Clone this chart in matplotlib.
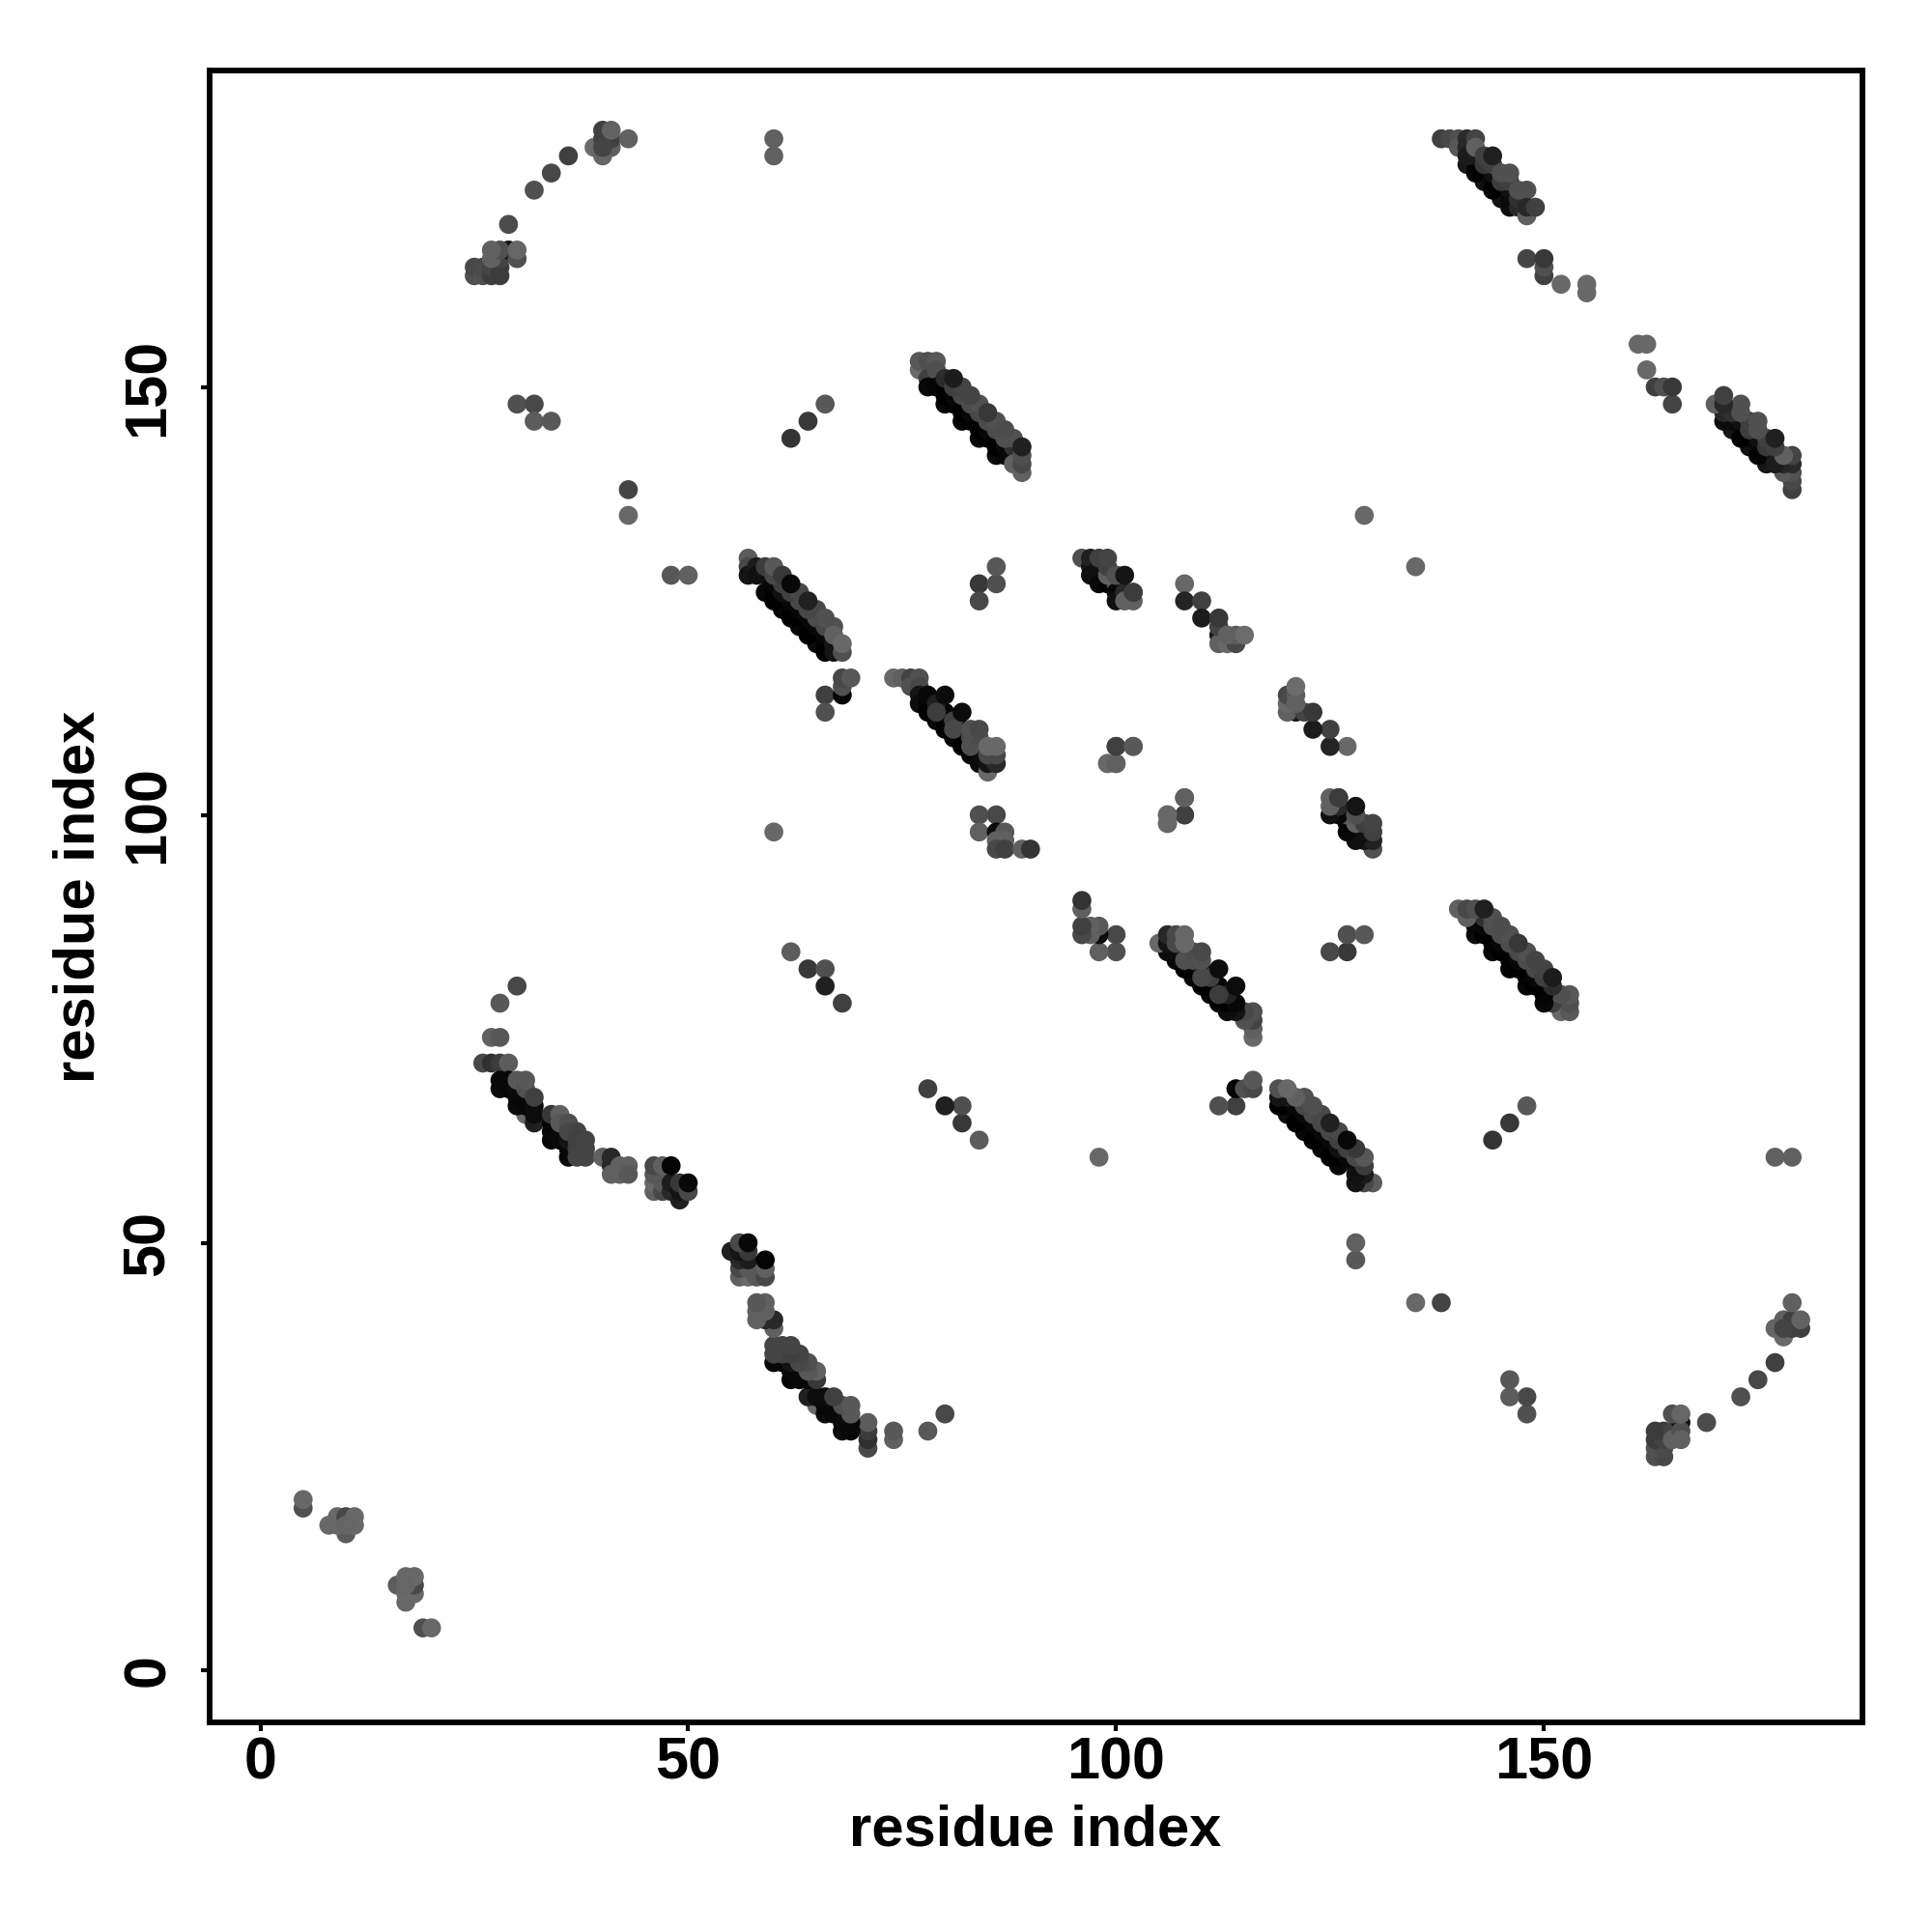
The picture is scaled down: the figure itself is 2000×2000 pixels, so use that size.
import numpy as np
import matplotlib
matplotlib.use('Agg')
import matplotlib.pyplot as plt

# contactos, solo triangulo superior (i < j), se espeja al dibujar
low_i = [5, 5, 10, 8, 9, 9, 10, 11, 11, 10]
low_j = [19, 20, 16, 17, 17, 18, 18, 17, 18, 17]
low_g = [80, 104, 92, 104, 104, 104, 72, 104, 104, 102]

arc1_i = [25, 25, 26, 26, 27, 27, 28, 28, 28, 27, 29, 28, 30, 30, 29, 36, 34, 32, 40]
arc1_j = [163, 164, 163, 164, 163, 164, 163, 164, 165, 165, 166, 166, 165, 166, 169, 177, 175, 173, 178]
arc1_g = [80, 72, 80, 74, 60, 68, 60, 60, 68, 96, 16, 80, 80, 102, 76, 64, 72, 80, 60]
arc1_i += [27, 39, 40, 40, 41, 40, 41, 41, 43, 40]
arc1_j += [166, 178, 177, 179, 178, 180, 179, 180, 179, 178]
arc1_g += [96, 106, 102, 64, 96, 64, 64, 98, 96, 68]

pair_i = [60, 60, 30, 32, 32, 34, 66, 64, 62, 43, 43, 48, 50, 60, 62, 64, 66, 66, 68]
pair_j = [179, 177, 148, 148, 146, 146, 148, 146, 144, 138, 135, 128, 128, 98, 84, 82, 82, 80, 78]
pair_g = [96, 96, 80, 72, 92, 88, 88, 56, 52, 68, 104, 88, 96, 104, 92, 56, 80, 32, 64]

bandA_i = [77, 77, 78, 79, 78, 79, 78, 80, 82, 84, 86, 79, 81, 83, 85, 87, 80, 82, 84, 86, 81, 83, 85, 87]
bandA_j = [152, 153, 153, 153, 151, 152, 150, 148, 146, 144, 142, 150, 148, 146, 144, 142, 149, 147, 145, 143, 149, 147, 145, 143]
bandA_g = [104, 88, 80, 88, 64, 80, 8, 8, 4, 8, 12, 4, 4, 4, 4, 8, 0, 0, 0, 0, 8, 8, 8, 8]
bandA_i += [80, 82, 84, 86, 88, 81, 83, 85, 87, 82, 84, 86, 88, 83, 85, 87, 81, 89, 88, 89, 89, 89]
bandA_j += [151, 149, 147, 145, 143, 150, 148, 146, 144, 150, 148, 146, 144, 149, 147, 145, 151, 140, 141, 141, 142, 143]
bandA_g += [44, 72, 72, 76, 48, 64, 76, 76, 80, 68, 80, 80, 80, 68, 56, 76, 28, 96, 96, 72, 80, 32]

bandB_i = [57, 57, 57, 58, 58, 59, 59, 61, 63, 65, 60, 62, 64, 66, 60, 62, 64, 66, 60, 62, 64, 66, 61, 63, 65, 67, 67]
bandB_j = [130, 129, 128, 129, 128, 128, 126, 124, 122, 120, 126, 124, 122, 120, 125, 123, 121, 119, 127, 125, 123, 121, 126, 124, 122, 120, 119]
bandB_g = [92, 72, 20, 28, 16, 16, 8, 8, 8, 12, 4, 4, 4, 4, 0, 0, 0, 0, 8, 8, 8, 8, 16, 8, 8, 24, 20]
bandB_i += [59, 61, 63, 65, 60, 62, 64, 66, 68, 60, 61, 63, 65, 67, 66, 62, 64, 67, 68]
bandB_j += [129, 127, 125, 123, 128, 126, 124, 122, 119, 129, 128, 126, 124, 122, 123, 127, 125, 121, 120]
bandB_g += [60, 64, 72, 76, 72, 64, 72, 72, 80, 88, 56, 72, 72, 80, 80, 8, 32, 96, 104]

bandC_i = [74, 75, 76, 76, 77, 77, 77, 77, 79, 81, 83, 78, 80, 82, 84, 78, 80, 82, 84, 78, 80, 82, 84, 85, 85, 86, 86, 85]
bandC_j = [116, 116, 116, 115, 116, 115, 114, 113, 111, 109, 107, 113, 111, 109, 107, 112, 110, 108, 106, 114, 112, 110, 108, 105, 106, 106, 107, 107]
bandC_g = [104, 96, 68, 80, 80, 72, 20, 12, 8, 8, 8, 4, 4, 4, 4, 0, 0, 0, 12, 8, 8, 8, 16, 104, 20, 40, 72, 72]
bandC_i += [79, 81, 83, 79, 81, 83, 84, 80, 82, 85, 86]
bandC_j += [113, 111, 109, 112, 110, 108, 109, 114, 112, 108, 108]
bandC_g += [32, 64, 76, 60, 72, 80, 76, 12, 12, 104, 104]
bandC_i += [83, 84]
bandC_j += [110, 110]
bandC_g += [80, 72]

bandD_i = [96, 97, 97, 98, 97, 98, 98, 99, 100, 99, 100, 100, 101, 102, 102, 99, 100, 101, 102, 98, 99, 100, 101]
bandD_j = [130, 129, 130, 129, 128, 128, 127, 127, 127, 128, 126, 125, 126, 125, 126, 129, 128, 125, 126, 130, 130, 128, 128]
bandD_g = [80, 24, 32, 16, 16, 16, 8, 4, 88, 96, 8, 16, 40, 96, 60, 64, 80, 96, 60, 64, 68, 80, 20]

bandE_i = [108, 108, 110, 110, 112, 112, 112, 113, 114, 114, 113, 115, 112]
bandE_j = [127, 125, 125, 123, 121, 120, 122, 120, 120, 121, 121, 121, 123]
bandE_g = [104, 36, 64, 28, 28, 96, 68, 104, 72, 92, 96, 108, 56]

side_i = [84, 84, 86, 86, 66, 66, 68, 68, 68, 69, 100, 102, 99, 100, 84, 84, 86, 86, 87, 86, 87, 86, 87, 89, 90, 106, 106, 108, 108, 129]
side_j = [127, 125, 127, 129, 114, 112, 114, 115, 116, 116, 108, 108, 106, 106, 100, 98, 100, 98, 98, 97, 97, 96, 96, 96, 96, 99, 100, 100, 102, 135]
side_g = [56, 72, 80, 88, 64, 80, 4, 80, 72, 88, 64, 96, 104, 104, 80, 96, 72, 12, 88, 96, 96, 72, 64, 96, 52, 104, 96, 64, 88, 104]

bandH_i = [138, 139, 140, 140, 141, 141, 142, 141, 143, 145, 142, 144, 146, 142, 144, 146, 142, 144, 146, 147, 143, 145, 147, 144, 146]
bandH_j = [179, 179, 179, 178, 179, 178, 179, 176, 174, 172, 176, 174, 172, 175, 173, 171, 177, 175, 173, 171, 176, 174, 172, 176, 174]
bandH_g = [64, 72, 80, 88, 44, 40, 68, 24, 16, 20, 8, 8, 8, 4, 0, 12, 16, 16, 16, 40, 56, 60, 48, 64, 64]
bandH_i += [141, 142, 143, 144, 145, 146, 147, 148, 148, 148, 149, 148, 150, 150, 150, 152, 155, 155]
bandH_j += [177, 178, 177, 177, 175, 175, 173, 173, 170, 171, 171, 165, 163, 164, 165, 162, 162, 161]
bandH_g += [28, 96, 64, 32, 80, 80, 80, 80, 96, 40, 64, 68, 64, 80, 56, 104, 104, 104]

arc2_i = [30, 28, 27, 28, 26, 27, 28, 29, 31, 28, 28, 29, 29, 30, 30, 30, 31, 31, 32, 32, 32, 30, 31, 32]
arc2_j = [80, 78, 74, 74, 71, 71, 71, 71, 65, 68, 69, 68, 69, 66, 67, 68, 66, 67, 64, 65, 66, 69, 68, 67]
arc2_g = [72, 88, 96, 88, 72, 48, 60, 92, 104, 12, 8, 8, 8, 12, 8, 12, 8, 8, 32, 12, 12, 88, 80, 64]
arc2_i += [31, 34, 34, 34, 35, 35, 36, 36, 36, 37, 34, 35, 35, 36, 36, 37, 37, 37, 38, 38, 38]
arc2_j += [69, 62, 63, 64, 62, 63, 60, 61, 62, 61, 65, 65, 64, 64, 63, 63, 62, 60, 60, 61, 62]
arc2_g += [88, 4, 8, 4, 8, 8, 8, 8, 20, 64, 56, 96, 88, 80, 72, 68, 64, 68, 68, 68, 68]
arc2_i += [40, 41, 41, 42, 43, 41, 42, 43, 46, 46, 46, 47, 47, 46, 47, 48, 48, 48, 49, 49, 49, 50, 50]
arc2_j += [60, 59, 60, 59, 59, 58, 58, 58, 56, 57, 58, 56, 57, 59, 59, 56, 57, 59, 55, 56, 57, 56, 57]
arc2_g += [96, 40, 40, 96, 96, 96, 96, 88, 96, 104, 88, 72, 88, 72, 96, 40, 28, 4, 32, 20, 56, 72, 8]

# orden de dibujo: cada grupo tapa al anterior
res_i = np.array(low_i + arc1_i + pair_i + bandA_i + bandB_i + bandC_i + bandD_i + bandE_i + side_i + bandH_i + arc2_i)
res_j = np.array(low_j + arc1_j + pair_j + bandA_j + bandB_j + bandC_j + bandD_j + bandE_j + side_j + bandH_j + arc2_j)
shade = np.array(low_g + arc1_g + pair_g + bandA_g + bandB_g + bandC_g + bandD_g + bandE_g + side_g + bandH_g + arc2_g)

tick_vals = [0, 50, 100, 150]

plt.rcParams['font.family'] = ['Liberation Sans', 'DejaVu Sans']
plt.rcParams['font.weight'] = 'bold'

fig = plt.figure(figsize=(10, 10), dpi=200)
ax = fig.add_axes([0.1084, 0.1085, 0.8558, 0.8551])

ax.scatter(res_i, res_j, c=shade, cmap='gray', vmin=0, vmax=255, s=50, linewidths=0, zorder=3)
ax.scatter(res_j, res_i, c=shade, cmap='gray', vmin=0, vmax=255, s=50, linewidths=0, zorder=3)

ax.set_xlim(-5.95, 187.26)
ax.set_ylim(-6.04, 187.0)
ax.set_xticks(tick_vals)
ax.set_yticks(tick_vals)
ax.tick_params(axis='x', length=3.2, width=1.5, labelsize=22, pad=2)
ax.tick_params(axis='y', length=3.2, width=1.5, labelsize=22, pad=9)
plt.setp(ax.get_yticklabels(), rotation=90, va='center')
for s in ax.spines.values():
    s.set_linewidth(2.1)

fig.text(0.5357, 0.0526, 'residue index', ha='center', va='center', fontsize=21.5, fontweight='bold')
fig.text(0.0408, 0.5360, 'residue index', ha='center', va='center', rotation=90, fontsize=21.5, fontweight='bold')

fig.savefig('out.png', dpi=200, facecolor='white')
